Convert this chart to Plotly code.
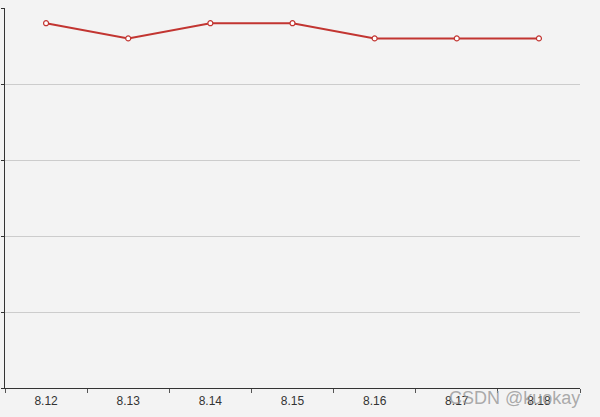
import plotly.graph_objects as go

# Category labels and series values
days = ['8.12', '8.13', '8.14', '8.15', '8.16', '8.17', '8.18']
values = [240, 230, 240, 240, 230, 230, 230]

y_ticks = [0, 50, 100, 150, 200, 250]

LINE_RED = '#c23531'

fig = go.Figure()
fig.add_trace(go.Scatter(
    x=days,
    y=values,
    mode='lines+markers',
    line=dict(color=LINE_RED, width=2),
    marker=dict(size=5, color='white', line=dict(color=LINE_RED, width=1.2)),
    hoverinfo='x+y',
    showlegend=False
))

fig.update_layout(
    width=600,
    height=417,
    margin=dict(l=2, r=20, t=8, b=29),
    paper_bgcolor='#f3f3f3',
    plot_bgcolor='#f3f3f3',
    font=dict(family='Liberation Sans, Arial, sans-serif', size=12, color='#333'),
    xaxis=dict(
        type='category',
        range=[-0.5, 6.5],
        tickson='boundaries',
        ticks='outside',
        ticklen=4,
        tickcolor='#555',
        ticklabelstandoff=2,
        showline=True,
        linecolor='#333',
        linewidth=1,
        showgrid=False,
        zeroline=False,
        fixedrange=True
    ),
    yaxis=dict(
        range=[0, 250],
        tickvals=y_ticks,
        showticklabels=False,
        ticks='outside',
        ticklen=3,
        tickcolor='#333',
        showline=True,
        linecolor='#333',
        linewidth=1,
        showgrid=True,
        gridcolor='#cccccc',
        gridwidth=1,
        zeroline=False,
        fixedrange=True
    ),
    annotations=[
        dict(
            x=1.0,
            y=0.0,
            xref='paper',
            yref='paper',
            xanchor='right',
            yanchor='top',
            xshift=2,
            yshift=2,
            text='CSDN @kuokay',
            showarrow=False,
            font=dict(size=18, color='rgba(150,150,150,0.8)',
                      family='Liberation Sans, Arial, sans-serif')
        )
    ]
)

# drop the default body margin so the figure sits at the page corner
fig.write_html("out.html", config={'displayModeBar': False},
               post_script="document.body.style.margin='0';")
